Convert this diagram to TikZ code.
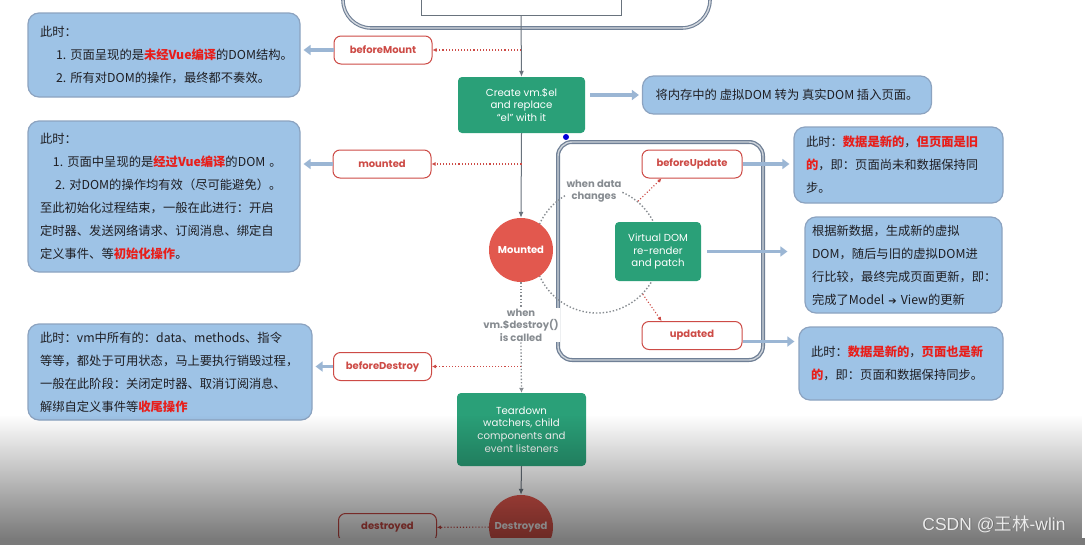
\documentclass[tikz,border=0pt]{standalone}
\usepackage{fontspec}
\setmainfont{Noto Sans CJK SC}
\newfontfamily\labfont{Poppins}
\newfontfamily\symfont{DejaVu Sans}
\newfontfamily\wmfont{Liberation Sans}
\usetikzlibrary{arrows.meta,positioning,fadings}

\definecolor{noteblue}{RGB}{158,195,230}
\definecolor{noteline}{RGB}{140,163,192}
\definecolor{hookred}{RGB}{205,75,70}
\definecolor{hilite}{RGB}{232,30,26}
\definecolor{vuegreen}{RGB}{42,160,120}
\definecolor{statered}{RGB}{226,88,78}
\definecolor{flowgray}{RGB}{105,115,125}
\definecolor{condgray}{RGB}{135,140,145}
\definecolor{framegray}{RGB}{112,128,150}
\definecolor{pipeblue}{RGB}{155,182,212}
\definecolor{txtdark}{RGB}{30,30,35}

\newcommand{\hl}[1]{{\bfseries\color{hilite}#1}}

\begin{document}
\begin{tikzpicture}[x=1pt,y=-1pt,>=Latex,
  note/.style={draw=noteline,line width=1.2pt,fill=noteblue,rounded corners=11pt,text=txtdark,
    align=left,inner xsep=12pt,font=\fontsize{12.3}{23}\selectfont},
  hook/.style={draw=hookred,line width=1pt,fill=white,rounded corners=7pt,minimum width=98pt,
    minimum height=28pt,text=hookred,font=\labfont\bfseries\fontsize{10}{11}\selectfont},
  act/.style={fill=vuegreen,rounded corners=4pt,text=white,align=center,
    font=\labfont\fontsize{10.2}{12.6}\selectfont},
  state/.style={circle,fill=statered,text=white,minimum size=64pt,inner sep=0pt,
    font=\labfont\bfseries\fontsize{10}{11}\selectfont},
  cond/.style={fill=white,text=condgray,align=center,inner sep=1pt,
    font=\labfont\bfseries\fontsize{10}{12.5}\selectfont},
  flow/.style={draw=flowgray,line width=1pt,-{Latex[length=6pt,width=5pt]}},
  hookline/.style={draw=hookred,dotted,line width=1.1pt,-{Latex[length=4pt,width=4pt]}},
  pipe/.style={draw=pipeblue,line width=3.5pt,-{Triangle[length=7pt,width=10pt]}}]
  \useasboundingbox (0,0) rectangle (1085,544);
  \clip (0,0) rectangle (1085,544);
  \fill[white] (0,0) rectangle (1085,544);

  \node[draw=framegray,double=framegray!30,double distance=1.4pt,line width=1.1pt,rounded corners=28pt,
    minimum width=367pt,minimum height=88pt] (init) at (526.5,-16) {};
  \node[draw=flowgray,line width=0.8pt,minimum width=200pt,minimum height=54pt] (tpl) at (521,-12) {};

  \node[draw=framegray,double=framegray!35,double distance=1.4pt,line width=1.3pt,rounded corners=14pt,
    minimum width=205pt,minimum height=218pt] (updbox) at (660.5,251) {};
  \node[circle,draw=condgray,dotted,line width=1.4pt,minimum size=126pt] (cycle) at (597,250) {};

  \node[act,minimum width=127pt,minimum height=56pt] (create) at (521.5,105)
    {Create vm.\$el\\and replace\\“el” with it};
  \node[state] (mounted) at (521,250) {Mounted};
  \node[act,minimum width=86pt,minimum height=59pt] (vdom) at (658,251.5)
    {Virtual DOM\\re-render\\and patch};
  \node[act,minimum width=129pt,minimum height=73pt] (teardown) at (521.5,429.5)
    {Teardown\\watchers, child\\components and\\event listeners};
  \node[state] (destroyed) at (521,527) {Destroyed};

  \node[cond] (datachg) at (594,191) {when data\\changes};
  \node[cond] (destroyq) at (521,325) {when\\vm.\$destroy()\\is called};

  \node[hook] (bmhook) at (383,50) {beforeMount};
  \node[hook] (mhook) at (382,164) {mounted};
  \node[hook] (bdhook) at (382.5,366.5) {beforeDestroy};
  \node[hook] (dhook) at (387.5,527.5) {destroyed};
  \node[hook,minimum width=100pt] (buhook) at (692,164) {beforeUpdate};
  \node[hook,minimum width=100pt] (uhook) at (692,335.5) {updated};

  \node[note,minimum width=272pt,minimum height=84pt,text width=248pt] (note1) at (164,55)
    {此时：\\
     \hspace*{16pt}1.~页面呈现的是\hl{未经Vue编译}的DOM结构。\\
     \hspace*{16pt}2.~所有对DOM的操作，最终都不奏效。};
  \node[note,minimum width=272pt,minimum height=151pt,text width=248pt] (note2) at (164,196.5)
    {此时：\\
     \hspace*{13pt}1.~页面中呈现的是\hl{经过Vue编译}的DOM~。\\
     \hspace*{15pt}2.~对DOM的操作均有效（尽可能避免）。\\
     至此初始化过程结束，一般在此进行：开启\\
     定时器、发送网络请求、订阅消息、绑定自\\
     定义事件、等\hl{初始化操作}。};
  \node[note,minimum width=284pt,minimum height=96pt,text width=260pt] (note3) at (170,372)
    {此时：vm中所有的：data、methods、指令\\
     等等，都处于可用状态，马上要执行销毁过程，\\
     一般在此阶段：关闭定时器、取消订阅消息、\\
     解绑自定义事件等\hl{收尾操作}};
  \node[note,minimum width=289pt,minimum height=38pt,align=center] (dom) at (787,95)
    {将内存中的~虚拟DOM~转为~真实DOM~插入页面。};
  \node[note,minimum width=207pt,minimum height=76pt,text width=185pt] (note4) at (898.5,165)
    {此时：\hl{数据是新的}，\hl{但页面是旧}\\
     \hl{的}，即：页面尚未和数据保持同\\
     步。};
  \node[note,minimum width=197pt,minimum height=96pt,text width=183pt,inner xsep=6pt] (note5) at (903.5,265)
    {根据新数据，生成新的虚拟\\
     DOM，随后与旧的虚拟DOM进\\
     行比较，最终完成页面更新，即：\\
     完成了Model~{\symfont\fontsize{10}{10}\selectfont ➔}~View的更新};
  \node[note,minimum width=202pt,minimum height=73pt,text width=180pt] (note6) at (901,363.5)
    {此时：\hl{数据是新的}，\hl{页面也是新}\\
     \hl{的}，即：页面和数据保持同步。};

  \draw[flow] (tpl.south) -- (create.north);
  \draw[flow] (create.south) -- (mounted.north);
  \draw[draw=condgray,dotted,line width=1.3pt] (mounted.south) -- (destroyq.north);
  \draw[draw=condgray,dotted,line width=1.3pt,-{Latex[length=5pt,width=5pt]}] (destroyq.south) -- (teardown.north);
  \draw[flow] (teardown.south) -- (destroyed.north);

  \draw[hookline] (tpl.south |- bmhook) -- (bmhook);
  \draw[hookline] (create.south |- mhook) -- (mhook);
  \draw[hookline] (mounted.south |- bdhook) -- (bdhook);
  \draw[hookline] (destroyed) -- (dhook);
  \draw[hookline] (cycle.50) -- ([xshift=20pt]buhook.south west);
  \draw[hookline] (cycle.-44) -- ([xshift=20pt]uhook.north west);

  \draw[pipe,shorten >=3pt] (bmhook.west) -- (bmhook.west -| note1.east);
  \draw[pipe,shorten >=3pt] (mhook.west) -- (mhook.west -| note2.east);
  \draw[pipe,shorten >=3pt] (bdhook.west) -- (bdhook.west -| note3.east);
  \draw[pipe,shorten <=5pt,shorten >=3pt] (create.east |- dom.west) -- (dom.west);
  \draw[pipe,shorten >=4pt] (buhook.east) -- (buhook.east -| note4.west);
  \draw[pipe,shorten <=6pt,shorten >=17pt] (vdom.east) -- (vdom.east -| note5.west);
  \draw[pipe,shorten >=4pt] ([yshift=-6pt]uhook.east) -- ([yshift=-6pt]uhook.east -| note6.west);

  \fill[blue!85!black] (566,137) circle[radius=3];

  \fill[black,fill opacity=0.52,path fading=north] (0,415) rectangle (1085,538);
  \fill[black!52] (0,538) rectangle (1085,550);
  \node[text=black!60,font=\fontsize{17.5}{17.5}\selectfont] (wmshadow) at (994.8,524.8)
    {{\wmfont CSDN @}王林{\wmfont -wlin}};
  \node[text=white!92!black,font=\fontsize{17.5}{17.5}\selectfont] (csdn) at (994,524)
    {{\wmfont CSDN @}王林{\wmfont -wlin}};
\end{tikzpicture}
\end{document}
